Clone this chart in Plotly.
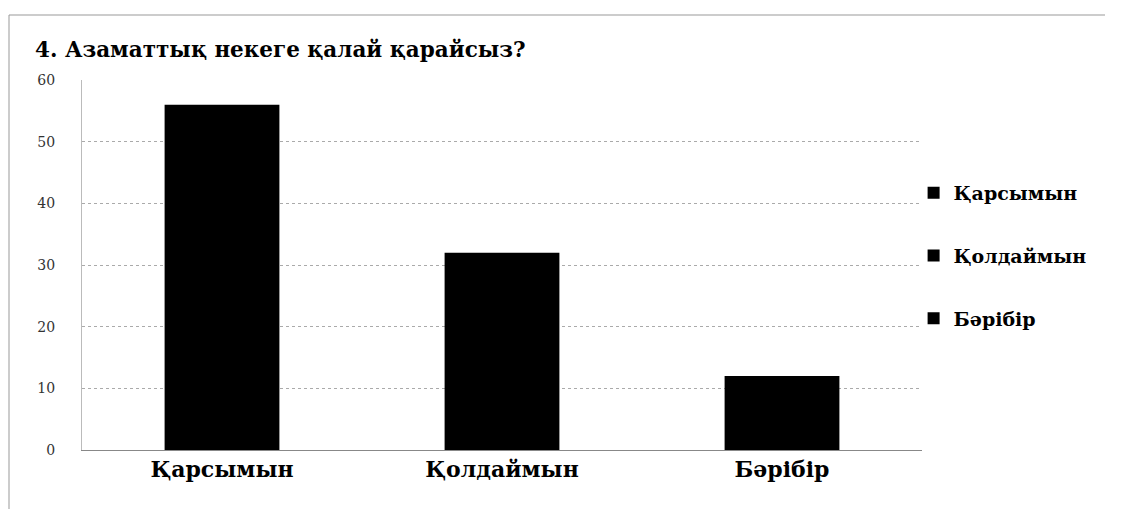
import plotly.graph_objects as go

categories = ["Қарсымын", "Қолдаймын", "Бәрібір"]
values = [56, 32, 12]
title_text = "4. Азаматтық некеге қалай қарайсыз?"
y_ticks = [0, 10, 20, 30, 40, 50, 60]

fig = go.Figure()
for i, (c, v) in enumerate(zip(categories, values)):
    fig.add_trace(go.Bar(
        x=[c], y=[v], name="<b>" + c + "</b>", width=0.41,
        marker=dict(color="#000000", line=dict(width=0)),
        legendgroup=f"g{i}",
    ))

serif = "DejaVu Serif"
fig.update_layout(
    width=1127, height=509,
    margin=dict(l=74, r=213, t=72, b=67),
    paper_bgcolor="white", plot_bgcolor="white",
    barmode="overlay",
    font=dict(family=serif, color="#000"),
    title=dict(text="<b>" + title_text + "</b>", x=27/1127, xanchor="left",
               y=1-41/509, yanchor="middle", font=dict(family=serif, size=21.5, color="#000")),
    showlegend=True,
    legend=dict(x=0.99, xanchor="left", y=0.746, yanchor="top",
                font=dict(family=serif, size=19, color="#000"),
                tracegroupgap=35, bgcolor="rgba(0,0,0,0)", itemwidth=30),
    xaxis=dict(categoryorder="array", categoryarray=categories,
               tickfont=dict(family=serif, size=22, color="#000"),
               showline=True, linecolor="#888", linewidth=1, ticks="",
               showgrid=False, tickprefix="<b>", ticksuffix="</b>"),
    yaxis=dict(range=[0, 60], tickvals=y_ticks, ticks="",
               tickfont=dict(family=serif, size=14, color="#333"),
               showgrid=True, gridcolor="#aaa", gridwidth=1, griddash="dot",
               showline=True, linecolor="#bbb", linewidth=1,
               zeroline=False, ticklabelstandoff=23),
)
# outer frame lines (left and top edges of scanned chart)
fig.add_shape(type="line", xref="paper", yref="paper",
              x0=(9-82)/840, x1=(9-82)/840, y0=(450-15)/370, y1=(450-509)/370,
              line=dict(color="#999", width=1))
fig.add_shape(type="line", xref="paper", yref="paper",
              x0=(9-82)/840, x1=(1105-82)/840, y0=(450-15)/370, y1=(450-15)/370,
              line=dict(color="#999", width=1))

fig.write_html("out.html")
